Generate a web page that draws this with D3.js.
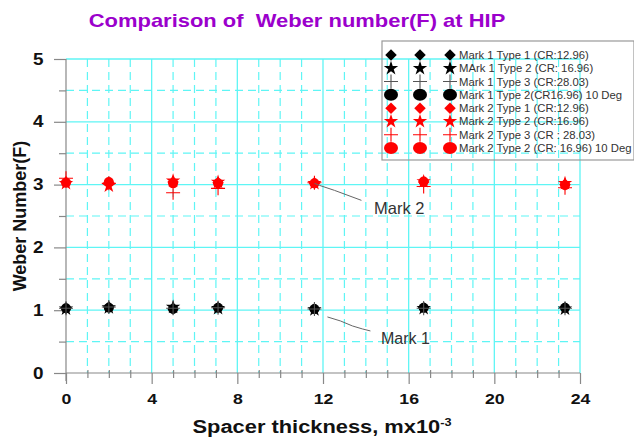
<!DOCTYPE html>
<html>
<head>
<meta charset="utf-8">
<script src="https://cdn.jsdelivr.net/npm/d3@7"></script>
<style>
  html, body { margin: 0; padding: 0; background: #fff; }
  svg { display: block; font-family: "Liberation Sans", Arial, sans-serif; }
</style>
</head>
<body>
<svg id="chart" width="634" height="439"></svg>
<script>
// Spacer thickness (mx10^-3) at which each configuration was measured
const spacer = [0, 2, 5, 7.1, 11.6, 16.7, 23.3];

// Weber number F for every configuration
const mark1Type1 = [1.03, 1.05, 1.02, 1.04, 1.02, 1.04, 1.04];
const mark1Type2 = [1.02, 1.04, 1.05, 1.03, 1.01, 1.03, 1.02];
const mark1Type3 = [1.03, 1.05, 1.03, 1.04, 1.02, 1.03, 1.03];
const mark1Deg10 = [1.03, 1.04, 1.02, 1.04, 1.02, 1.04, 1.04];
const mark2Type1 = [3.04, 3.03, 3.04, 3.03, 3.02, 3.04, 3.00];
const mark2Type2 = [3.02, 2.98, 3.06, 3.04, 3.02, 3.05, 3.02];
const mark2Type3 = [3.10, 3.02, 2.87, 2.94, 3.03, 2.97, 2.95];
const mark2Deg10 = [3.03, 3.04, 3.02, 3.02, 3.02, 3.05, 2.99];

const seriesNames = [
  "Mark 1 Type 1 (CR:12.96)",
  "MArk 1 Type 2 (CR: 16.96)",
  "Mark 1 Type 3 (CR:28.03)",
  "Mark 1 Type 2(CR16.96) 10 Deg",
  "Mark 2 Type 1 (CR:12.96)",
  "Mark 2 Type 2 (CR:16.96)",
  "Mark 2 Type 3 (CR : 28.03)",
  "Mark 2 Type 2 (CR: 16.96) 10 Deg"
];
const seriesShapes = ["diamond", "star", "plus", "circle", "diamond", "star", "plus", "circle"];
const seriesColors = ["#000", "#000", "#555", "#000", "#f00", "#f00", "#f00", "#f00"];
const seriesValues = [mark1Type1, mark1Type2, mark1Type3, mark1Deg10,
                      mark2Type1, mark2Type2, mark2Type3, mark2Deg10];

const xTicks = [0, 4, 8, 12, 16, 20, 24];
const yTicks = [0, 1, 2, 3, 4, 5];

const titleText = "Comparison of  Weber number(F) at HIP";
const annotations = [
  { label: "Mark 2", x: 11.6, y: 3.02 },
  { label: "Mark 1", x: 11.6, y: 1.02 }
];

const svg = d3.select("#chart");
const plotL = 66, plotR = 580, plotT = 59, plotB = 373;
const wide = 1.18; // horizontal text stretch used throughout the figure

const x = d3.scaleLinear().domain([0, 24]).range([plotL, plotR]);
const y = d3.scaleLinear().domain([0, 5]).range([plotB, plotT]);

const cyan = "#5ff5f5";

// Minor (dashed) grid
const minorX = d3.range(1, 24).filter(v => v % 4 !== 0);
const minorY = d3.range(0.5, 5, 1);
svg.append("g").selectAll("line").data(minorX).join("line")
  .attr("x1", d => x(d)).attr("x2", d => x(d))
  .attr("y1", plotT).attr("y2", plotB)
  .attr("stroke", cyan).attr("stroke-width", 1.2).attr("stroke-dasharray", "8,5");
svg.append("g").selectAll("line").data(minorY).join("line")
  .attr("x1", plotL).attr("x2", plotR)
  .attr("y1", d => y(d)).attr("y2", d => y(d))
  .attr("stroke", cyan).attr("stroke-width", 1.2).attr("stroke-dasharray", "8,5");

// Major (solid) grid
svg.append("g").selectAll("line").data(xTicks.slice(1)).join("line")
  .attr("x1", d => x(d)).attr("x2", d => x(d))
  .attr("y1", plotT).attr("y2", plotB)
  .attr("stroke", cyan).attr("stroke-width", 1.3);
svg.append("g").selectAll("line").data(yTicks.slice(1)).join("line")
  .attr("x1", plotL).attr("x2", plotR)
  .attr("y1", d => y(d)).attr("y2", d => y(d))
  .attr("stroke", cyan).attr("stroke-width", 1.3);

// Axes
const axisColor = "#888";
const xAxis = svg.append("g").attr("transform", `translate(0,${plotB})`)
  .call(d3.axisBottom(x).tickValues(xTicks).tickSize(11).tickFormat(d3.format("d")));
const xMinor = svg.append("g").attr("transform", `translate(0,${plotB - 3})`)
  .call(d3.axisBottom(x).tickValues(minorX).tickSize(8).tickFormat(""));
const yAxis = svg.append("g").attr("transform", `translate(${plotL},0)`)
  .call(d3.axisLeft(y).tickValues(yTicks).tickSize(12).tickPadding(6).tickFormat(d3.format("d")));
const yMinor = svg.append("g").attr("transform", `translate(${plotL},0)`)
  .call(d3.axisLeft(y).tickValues(minorY).tickSize(7).tickFormat(""));
[xAxis, xMinor, yAxis, yMinor].forEach(g => {
  g.selectAll("path, line").attr("stroke", axisColor).attr("stroke-width", 1.2);
});
xMinor.select("path").remove();
yMinor.select("path").remove();
xAxis.select("path").attr("d", `M${plotL},0H${plotR}`);
yAxis.select("path").attr("d", `M0,${plotT}V${plotB + 8}`);
xAxis.selectAll("text").attr("font-size", 15).attr("font-weight", "bold")
  .attr("fill", "#111").attr("dy", "1.15em").attr("transform", `scale(${wide},1)`);
yAxis.selectAll("text").attr("font-size", 16).attr("font-weight", "bold").attr("fill", "#111")
  .attr("x", -19).attr("transform", `scale(${wide},1)`);

// Marker shapes
const square = d3.symbol().type(d3.symbolSquare);
const star = d3.symbol().type(d3.symbolStar);
function drawMarker(g, shape, color, scaleK) {
  const k = scaleK || 1;
  if (shape === "diamond") {
    g.append("path").attr("d", square.size(66 * k * k)()).attr("transform", "rotate(45)")
      .attr("fill", color);
  } else if (shape === "star") {
    g.append("path").attr("d", star.size(64 * k * k)()).attr("fill", color);
  } else if (shape === "plus") {
    const h = 7 * k;
    g.append("path").attr("d", `M${-h},0H${h}M0,${-h}V${h}`)
      .attr("stroke", color).attr("stroke-width", 1.1).attr("fill", "none");
  } else if (shape === "circle") {
    g.append("circle").attr("r", 5 * k).attr("fill", color);
  }
}

// Data points
const drawOrder = [3, 7, 0, 4, 1, 5, 2, 6];
drawOrder.forEach(i => {
  const grp = svg.append("g");
  seriesValues[i].forEach((v, j) => {
    const m = grp.append("g").attr("transform", `translate(${x(spacer[j])},${y(v)})`);
    drawMarker(m, seriesShapes[i], seriesColors[i]);
  });
});

// Annotation leaders and labels
const leaderOffsets = [
  [[5, 2], [20, 7], [47, 17]],
  [[13, 8], [26, 12], [38, 17], [48, 20], [56, 22]]
];
annotations.forEach((a, i) => {
  const x0 = x(a.x), y0 = y(a.y);
  const pts = [[x0, y0]].concat(leaderOffsets[i].map(p => [x0 + p[0], y0 + p[1]]));
  if (i === 1) pts.shift();
  svg.append("path").attr("d", d3.line()(pts))
    .attr("fill", "none").attr("stroke", "#666").attr("stroke-width", 1);
});
svg.append("text").attr("x", 374).attr("y", 214).text(annotations[0].label)
  .attr("font-size", 16.5).attr("fill", "#333");
svg.append("text").attr("x", 381).attr("y", 344).text(annotations[1].label)
  .attr("font-size", 16).attr("fill", "#333");

// Legend
const legend = svg.append("g");
legend.append("rect").attr("x", 382).attr("y", 41).attr("width", 252).attr("height", 119)
  .attr("fill", "none").attr("stroke", "#999").attr("stroke-width", 1.2);
const rowY = d3.scaleLinear().domain([0, 7]).range([55, 148]);
const colX = [391, 420, 450];
seriesNames.forEach((name, i) => {
  colX.forEach(cx => {
    const m = legend.append("g").attr("transform", `translate(${cx},${rowY(i)})`);
    if (seriesShapes[i] === "circle") {
      m.append("ellipse").attr("rx", 7).attr("ry", 6).attr("fill", seriesColors[i]);
    } else {
      drawMarker(m, seriesShapes[i], seriesColors[i], 1.0);
    }
  });
  legend.append("text").attr("x", 459).attr("y", rowY(i) + 4)
    .attr("font-size", 11.3).attr("fill", "#333").text(name);
});

// Titles
svg.append("text").attr("transform", `translate(297,27) scale(${1.22},1)`)
  .attr("text-anchor", "middle")
  .attr("font-size", 18).attr("font-weight", "bold").attr("fill", "#9b00cc")
  .attr("xml:space", "preserve").style("white-space", "pre").text(titleText);

const xTitle = svg.append("text").attr("transform", `translate(322,433) scale(${1.15},1)`)
  .attr("text-anchor", "middle")
  .attr("font-size", 19).attr("font-weight", "bold").attr("fill", "#111");
xTitle.append("tspan").text("Spacer thickness, mx10");
xTitle.append("tspan").attr("dy", -7).attr("font-size", 11).text("-3");

svg.append("text").attr("transform", "translate(26,216) rotate(-90)")
  .attr("text-anchor", "middle").attr("font-size", 18).attr("font-weight", "bold")
  .attr("fill", "#111").text("Weber Number(F)");
</script>
</body>
</html>
